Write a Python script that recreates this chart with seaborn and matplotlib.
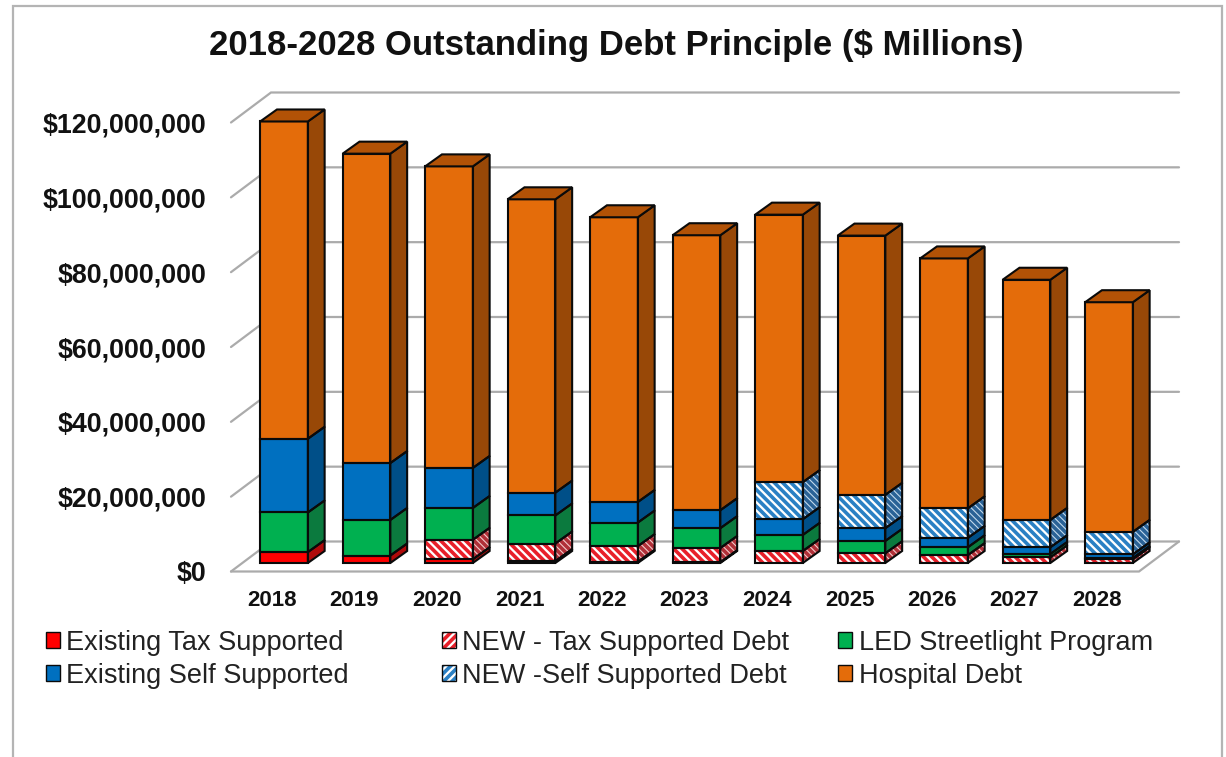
import numpy as np
import pandas as pd
import seaborn as sns
import matplotlib
matplotlib.use("Agg")
import matplotlib.pyplot as plt
from matplotlib.lines import Line2D
from matplotlib.patches import Patch, Polygon, Rectangle
from matplotlib.legend_handler import HandlerTuple
from matplotlib.transforms import ScaledTranslation

years = ["2018", "2019", "2020", "2021", "2022", "2023", "2024", "2025", "2026", "2027", "2028"]

# Outstanding principal in $ millions, by debt category
existing_tax = [2.9, 2.0, 1.0, 0.5, 0.3, 0.2, 0, 0, 0, 0, 0]
new_tax = [0, 0, 5.2, 4.7, 4.2, 3.8, 3.2, 2.6, 2.1, 1.5, 1.0]
led_streetlight = [10.6, 9.5, 8.5, 7.5, 6.3, 5.3, 4.3, 3.3, 2.1, 0.9, 0.3]
existing_self = [19.7, 15.2, 10.7, 6.1, 5.5, 4.8, 4.2, 3.4, 2.5, 1.8, 1.0]
new_self = [0, 0, 0, 0, 0, 0, 9.9, 8.9, 7.9, 7.3, 6.0]
hospital = [84.8, 82.7, 80.6, 78.4, 76.1, 73.5, 71.5, 69.3, 66.8, 64.2, 61.4]

y_ticks = [0, 20, 40, 60, 80, 100, 120]
y_tick_labels = ["$0", "$20,000,000", "$40,000,000", "$60,000,000",
                 "$80,000,000", "$100,000,000", "$120,000,000"]

title = "2018-2028 Outstanding Debt Principle ($ Millions)"

# Stacking order, bottom to top
series = [
    dict(label="Existing Tax Supported", values=existing_tax, face="#FF0000", side="#B00A0A"),
    dict(label="NEW - Tax Supported Debt", values=new_tax, face="#FFFFFF", side="#F2CBCB",
         hatch="\\\\\\\\", stripe="#E8202A", side_stripe="#B03038"),
    dict(label="LED Streetlight Program", values=led_streetlight, face="#00B050", side="#0B7A3E"),
    dict(label="Existing Self Supported", values=existing_self, face="#0070C0", side="#004F88"),
    dict(label="NEW -Self Supported Debt", values=new_self, face="#FFFFFF", side="#C4DAEC",
         hatch="\\\\\\\\", stripe="#2A80C4", side_stripe="#2A6296"),
    dict(label="Hospital Debt", values=hospital, face="#E46C0A", side="#984807"),
]
top_color = "#B25206"
grid_color = "#ABABAB"
frame_color = "#B4B4B4"
ink = "#111111"

W, H, DPI = 1226, 757, 100
sns.set_theme(style="white")
plt.rcParams["font.family"] = ["Liberation Sans", "DejaVu Sans"]
plt.rcParams["hatch.linewidth"] = 2.6

fig = plt.figure(figsize=(W / DPI, H / DPI), dpi=DPI, facecolor="white")

# The plot area holds the bar fronts; the 3D floor and walls are offsets from it.
ax_left, ax_right = 242.75, 1150.25
ax_top, ax_bottom = 114.0, 563.0
ax = fig.add_axes([ax_left / W, 1 - ax_bottom / H, (ax_right - ax_left) / W, (ax_bottom - ax_top) / H])

px_x = 11 / (ax_right - ax_left)          # category units per pixel
px_y = 120 / (ax_bottom - ax_top)         # $M per pixel
bar_width = 0.578
depth_x, depth_y = 16.8 * px_x, 12.0 * px_y
outline = dict(edgecolor="#0A0A0A", linewidth=1.5, zorder=4, clip_on=False)

frame = pd.DataFrame({"year": years})
bottom = np.zeros(len(years))
xpos = np.arange(len(years))

for s in series:
    vals = np.asarray(s["values"], dtype=float)
    hatch = s.get("hatch")
    before = len(ax.containers)
    sns.barplot(data=frame.assign(v=vals), x="year", y="v", bottom=bottom, ax=ax,
                color=s["face"], saturation=1, width=bar_width, errorbar=None,
                edgecolor=s.get("stripe", s["face"]), linewidth=0,
                hatch=hatch, zorder=3)
    for i, bar in enumerate(ax.containers[before]):
        if vals[i] <= 0:
            continue
        x0, x1 = bar.get_x(), bar.get_x() + bar.get_width()
        y0, y1 = bar.get_y(), bar.get_y() + bar.get_height()
        # Receding right-hand face of this segment
        corners = [(x1, y0), (x1 + depth_x, y0 + depth_y), (x1 + depth_x, y1 + depth_y), (x1, y1)]
        ax.add_patch(Polygon(corners, facecolor=s["side"], edgecolor=s.get("side_stripe", s["side"]),
                             linewidth=0, hatch="\\\\\\\\\\" if hatch else None, zorder=2, clip_on=False))
        ax.add_patch(Polygon(corners, fill=False, **outline))
        ax.add_patch(Rectangle((x0, y0), x1 - x0, y1 - y0, fill=False, **outline))
    bottom = bottom + vals

# Top cap on each column
for x, total in zip(xpos, bottom):
    x0, x1 = x - bar_width / 2, x + bar_width / 2
    ax.add_patch(Polygon([(x0, total), (x1, total), (x1 + depth_x, total + depth_y), (x0 + depth_x, total + depth_y)],
                         facecolor=top_color, **outline))

ax.set_xlim(-0.5, 10.5)
ax.set_ylim(0, 120)

# Back-wall gridlines, left-wall diagonals and the floor
front_drop = 8.5 * px_y
back_rise = 21.5 * px_y
floor_x0 = -0.5 + (231 - ax_left) * px_x
floor_x1 = 10.5 + (1139 - ax_right) * px_x
back_shift = 40 * px_x
for v in y_ticks:
    ax.plot([floor_x0, floor_x0 + back_shift, floor_x1 + back_shift],
            [v - front_drop, v + back_rise, v + back_rise],
            color=grid_color, lw=1.6, zorder=1, clip_on=False, solid_joinstyle="miter")
ax.plot([floor_x0, floor_x1, floor_x1 + back_shift],
        [-front_drop, -front_drop, back_rise],
        color=grid_color, lw=1.6, zorder=1, clip_on=False, solid_joinstyle="miter")

# Axis labels sit on the front plane, so they are shifted from the bar positions
ax.set_xlabel("")
ax.set_ylabel("")
ax.set_xticks(xpos, years)
ax.set_yticks(y_ticks, y_tick_labels)
ax.tick_params(axis="both", length=0)
ax.tick_params(axis="x", pad=19.5, labelsize=16, labelcolor=ink)
ax.tick_params(axis="y", pad=26, labelsize=19.3, labelcolor=ink)
for lab in ax.get_xticklabels():
    lab.set_fontweight("bold")
    lab.set_transform(lab.get_transform() + ScaledTranslation(-12 / DPI, 0, fig.dpi_scale_trans))
for lab in ax.get_yticklabels():
    lab.set_fontweight("bold")
    lab.set_transform(lab.get_transform() + ScaledTranslation(0, -8.5 / DPI, fig.dpi_scale_trans))
sns.despine(ax=ax, left=True, bottom=True)
ax.patch.set_alpha(0)

fig.suptitle(title, x=616 / W, y=1 - 45 / H, va="center", ha="center",
             fontsize=25, fontweight="bold", color=ink)


def legend_handle(s):
    if s.get("hatch"):
        return (Patch(facecolor=s["face"], edgecolor=s["stripe"], linewidth=0, hatch="////"),
                Patch(fill=False, edgecolor="#0A0A0A", linewidth=1.0))
    return Patch(facecolor=s["face"], edgecolor="#0A0A0A", linewidth=1.0)


# Each legend column has its own left edge
for col, anchor_x in zip([[0, 3], [1, 4], [2, 5]], [45.5, 441.5, 838]):
    fig.legend(handles=[legend_handle(series[i]) for i in col],
               labels=[series[i]["label"] for i in col],
               handler_map={tuple: HandlerTuple(ndivide=1, pad=0)},
               loc="upper left", bbox_to_anchor=(anchor_x / W, 1 - 630 / H),
               frameon=False, prop={"size": 19.5}, labelcolor="#222222",
               handlelength=0.53, handleheight=0.53, handletextpad=0.235,
               borderpad=0, borderaxespad=0, labelspacing=0.26)

# Slide frame: open along the bottom edge
x_l, x_r, y_t = 12.5 / W, 1221.5 / W, 1 - 5.5 / H
fig.add_artist(Line2D([x_l, x_l, x_r, x_r], [0, y_t, y_t, 0], color=frame_color, lw=1.6,
                      transform=fig.transFigure, solid_joinstyle="miter"))

fig.savefig("out.png", dpi=DPI, facecolor="white")
